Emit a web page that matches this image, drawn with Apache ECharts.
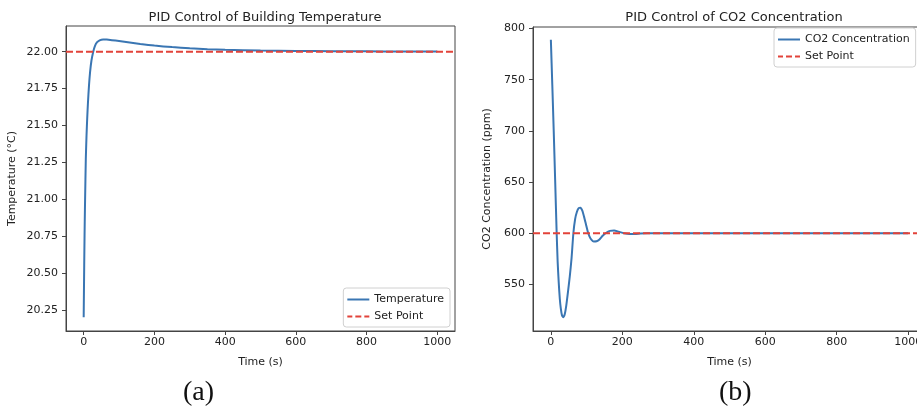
<!DOCTYPE html>
<html>
<head>
<meta charset="utf-8">
<script src="https://cdn.jsdelivr.net/npm/echarts@6/dist/echarts.min.js"></script>
<style>
  html, body { margin: 0; padding: 0; background: #fff; }
  #chart { width: 917px; height: 410px; }
</style>
</head>
<body>
<div id="chart"></div>
<script>
// (a) building temperature
const tempTime = [0, 1, 2, 3, 4, 6, 8, 10, 12, 15, 18, 22, 27, 32, 38, 45, 55, 65, 80, 100, 130, 160, 200, 250, 300, 350, 400, 500, 600, 700, 800, 900, 1000];
const tempValues = [20.2, 20.44, 20.66, 20.85, 21.0, 21.27, 21.43, 21.55, 21.65, 21.77, 21.86, 21.94, 22.0, 22.04, 22.064, 22.077, 22.083, 22.082, 22.078, 22.072, 22.062, 22.052, 22.041, 22.031, 22.023, 22.017, 22.013, 22.008, 22.005, 22.003, 22.002, 22.001, 22.001];
const tempSetPoint = 22.0;

// (b) CO2 concentration
const co2Time = [0, 4, 8, 12, 16, 19, 22, 25, 28, 31, 35, 39, 43, 48, 53, 58, 63, 68, 73, 78, 83, 88, 93, 98, 103, 108, 114, 120, 128, 136, 145, 155, 165, 177, 190, 205, 220, 235, 250, 270, 300, 400, 500, 600, 700, 800, 900, 1000];
const co2Values = [789, 745, 700, 652, 603, 572, 552, 536, 526, 520, 518, 521, 529, 543, 558, 576, 600, 614, 621, 624.5, 625, 622, 616, 609, 602, 597, 593.5, 592, 592.2, 594, 597.5, 600.5, 602.3, 602.8, 601.5, 600, 599.3, 599.3, 599.7, 600, 600, 600, 600, 600, 600, 600, 600, 600];
const co2SetPoint = 600;

const timeTicks = [0, 200, 400, 600, 800, 1000];
const tempTicks = [20.25, 20.5, 20.75, 21.0, 21.25, 21.5, 21.75, 22.0];
const co2Ticks = [550, 600, 650, 700, 750, 800];

const font = "DejaVu Sans";
const textColor = "#222";
const frameColor = "#444";
const blue = "#3a76b3";
const red = "#e2433a";

// legend glyphs: solid line and dashed line
const solidIcon = "path://M0,0h22v2h-22z";
const dashedIcon = "path://M0,0h5v2h-5z M8,0h6v2h-6z M17,0h5v2h-5z";

function zip(xs, ys) {
  return xs.map((x, i) => [x, ys[i]]);
}

function timeAxis(gridIndex) {
  return {
    type: "value",
    gridIndex: gridIndex,
    min: -50,
    max: 1050,
    name: "Time (s)",
    nameLocation: "middle",
    nameGap: 26,
    nameTextStyle: { fontFamily: font, fontSize: 11, color: textColor },
    axisLine: { show: true, onZero: false, lineStyle: { color: frameColor, width: 1 } },
    axisTick: { show: true, length: 4, customValues: timeTicks, lineStyle: { color: frameColor } },
    axisLabel: { customValues: timeTicks, margin: 6, fontFamily: font, fontSize: 11, color: textColor, formatter: (v) => String(v) },
    splitLine: { show: false },
  };
}

function valueAxis(gridIndex, min, max, ticks, name, gap, fmt) {
  return {
    type: "value",
    gridIndex: gridIndex,
    min: min,
    max: max,
    name: name,
    nameLocation: "middle",
    nameGap: gap,
    nameTextStyle: { fontFamily: font, fontSize: 11, color: textColor },
    axisLine: { show: true, onZero: false, lineStyle: { color: frameColor, width: 1 } },
    axisTick: { show: true, length: 4, customValues: ticks, lineStyle: { color: frameColor } },
    axisLabel: { customValues: ticks, margin: 8, fontFamily: font, fontSize: 11, color: textColor, formatter: fmt },
    splitLine: { show: false },
  };
}

function legendBox(names, pos) {
  return Object.assign({
    data: [
      { name: names[0], icon: solidIcon },
      { name: names[1], icon: dashedIcon },
    ],
    orient: "vertical",
    itemWidth: 22,
    itemHeight: 2,
    itemGap: 6,
    padding: [6, 6, 5, 4],
    borderColor: "#d0d0d0",
    borderWidth: 1,
    borderRadius: 3,
    backgroundColor: "rgba(255,255,255,0.8)",
    textStyle: { fontFamily: font, fontSize: 11, color: textColor },
  }, pos);
}

var myChart = echarts.init(document.getElementById("chart"), null, { renderer: "canvas" });

var option = {
  animation: false,
  backgroundColor: "#fff",
  title: [
    {
      text: "PID Control of Building Temperature",
      left: 260,
      top: 6,
      textAlign: "center",
      textStyle: { fontFamily: font, fontSize: 13, fontWeight: "normal", color: textColor },
    },
    {
      text: "PID Control of CO2 Concentration",
      left: 729,
      top: 6,
      textAlign: "center",
      textStyle: { fontFamily: font, fontSize: 13, fontWeight: "normal", color: textColor },
    },
  ],
  grid: [
    { left: 66, top: 26, width: 389, height: 305, outerBoundsMode: "none", show: true, borderColor: frameColor, borderWidth: 1 },
    { left: 533, top: 27, width: 393, height: 304, outerBoundsMode: "none", show: true, borderColor: frameColor, borderWidth: 1 },
  ],
  xAxis: [timeAxis(0), timeAxis(1)],
  yAxis: [
    valueAxis(0, 20.106, 22.174, tempTicks, "Temperature (°C)", 48, (v) => v.toFixed(2)),
    valueAxis(1, 504.5, 801.5, co2Ticks, "CO2 Concentration (ppm)", 40, (v) => String(v)),
  ],
  legend: [
    legendBox(["Temperature", "Set Point"], { right: 917 - 450, top: 288 }),
    legendBox(["CO2 Concentration", "Set Point "], { left: 774, top: 28 }),
  ],
  series: [
    {
      name: "Temperature",
      type: "line",
      xAxisIndex: 0,
      yAxisIndex: 0,
      showSymbol: false,
      symbol: "none",
      smooth: 0.2,
      lineStyle: { color: blue, width: 2 },
      itemStyle: { color: blue },
      data: zip(tempTime, tempValues),
      z: 2,
    },
    {
      name: "Set Point",
      type: "line",
      xAxisIndex: 0,
      yAxisIndex: 0,
      showSymbol: false,
      symbol: "none",
      lineStyle: { color: red, width: 2, type: [7, 3] },
      itemStyle: { color: red },
      data: [[-50, tempSetPoint], [1050, tempSetPoint]],
      z: 3,
    },
    {
      name: "CO2 Concentration",
      type: "line",
      xAxisIndex: 1,
      yAxisIndex: 1,
      showSymbol: false,
      symbol: "none",
      smooth: 0.2,
      lineStyle: { color: blue, width: 2 },
      itemStyle: { color: blue },
      data: zip(co2Time, co2Values),
      z: 2,
    },
    {
      name: "Set Point ",
      type: "line",
      xAxisIndex: 1,
      yAxisIndex: 1,
      showSymbol: false,
      symbol: "none",
      lineStyle: { color: red, width: 2, type: [7, 3] },
      itemStyle: { color: red },
      data: [[-50, co2SetPoint], [1050, co2SetPoint]],
      z: 3,
    },
  ],
  graphic: [
    {
      type: "text",
      left: 183,
      top: 379,
      style: { text: "(a)", fontFamily: "Liberation Serif", fontSize: 28, fill: "#111" },
    },
    {
      type: "text",
      left: 719,
      top: 379,
      style: { text: "(b)", fontFamily: "Liberation Serif", fontSize: 28, fill: "#111" },
    },
  ],
};

myChart.setOption(option);
window.addEventListener("resize", myChart.resize);
</script>
</body>
</html>
